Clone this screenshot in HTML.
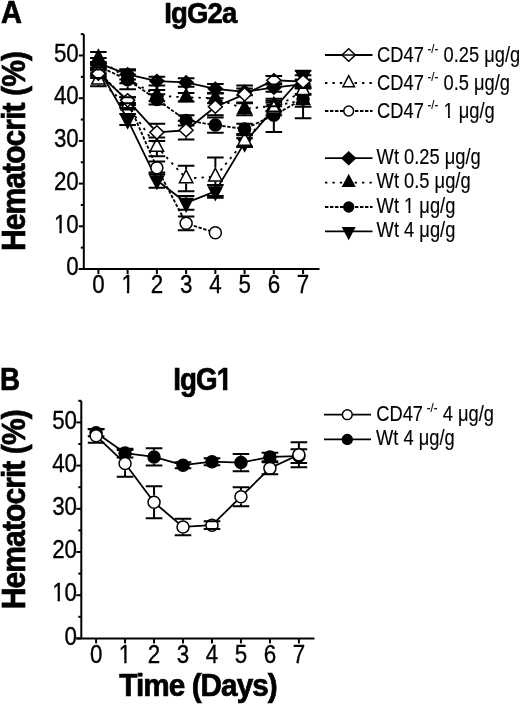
<!DOCTYPE html>
<html><head><meta charset="utf-8"><title>Hematocrit</title><style>html,body{margin:0;padding:0;background:#fff;}svg{display:block;}</style></head><body>
<svg width="520" height="705" viewBox="0 0 520 705" font-family='"Liberation Sans", sans-serif' fill="#000">
<rect width="520" height="705" fill="#fff"/>
<text transform="translate(1.0 23.0) scale(0.95 1)" font-size="30.5" font-weight="bold" stroke="#000" stroke-width="0.7">A</text>
<text transform="translate(0.0 389.6) scale(0.91 1)" font-size="30.5" font-weight="bold" stroke="#000" stroke-width="0.7">B</text>
<text x="164.3" y="23.2" font-size="30" font-weight="bold" textLength="72" lengthAdjust="spacingAndGlyphs" letter-spacing="-1.0" stroke="#000" stroke-width="0.7">IgG2a</text>
<text x="173.3" y="390.4" font-size="30.5" font-weight="bold" textLength="58" lengthAdjust="spacingAndGlyphs" letter-spacing="-1.0" stroke="#000" stroke-width="0.7">IgG1</text>
<text transform="translate(25.3 251.0) rotate(-90)" font-size="33" font-weight="bold" textLength="199" lengthAdjust="spacingAndGlyphs" letter-spacing="-1.0" stroke="#000" stroke-width="0.7">Hematocrit (%)</text>
<text transform="translate(25.0 609.2) rotate(-90)" font-size="33" font-weight="bold" textLength="199" lengthAdjust="spacingAndGlyphs" letter-spacing="-1.0" stroke="#000" stroke-width="0.7">Hematocrit (%)</text>
<text x="119.3" y="696.0" font-size="31" font-weight="bold" textLength="157.5" lengthAdjust="spacingAndGlyphs" letter-spacing="-1.0" stroke="#000" stroke-width="0.7">Time (Days)</text>
<path d="M83.80 34.15V269.00" stroke="#000" stroke-width="2" fill="none"/>
<path d="M78.80 269.00H319.50" stroke="#000" stroke-width="2" fill="none"/>
<path d="M78.80 269.00H83.80" stroke="#000" stroke-width="2"/>
<path d="M80.80 247.65H83.80" stroke="#000" stroke-width="2"/>
<path d="M78.80 226.30H83.80" stroke="#000" stroke-width="2"/>
<path d="M80.80 204.95H83.80" stroke="#000" stroke-width="2"/>
<path d="M78.80 183.60H83.80" stroke="#000" stroke-width="2"/>
<path d="M80.80 162.25H83.80" stroke="#000" stroke-width="2"/>
<path d="M78.80 140.90H83.80" stroke="#000" stroke-width="2"/>
<path d="M80.80 119.55H83.80" stroke="#000" stroke-width="2"/>
<path d="M78.80 98.20H83.80" stroke="#000" stroke-width="2"/>
<path d="M80.80 76.85H83.80" stroke="#000" stroke-width="2"/>
<path d="M78.80 55.50H83.80" stroke="#000" stroke-width="2"/>
<path d="M80.80 34.15H83.80" stroke="#000" stroke-width="2"/>
<path d="M98.40 269.00V274.00" stroke="#000" stroke-width="2"/>
<path d="M127.64 269.00V274.00" stroke="#000" stroke-width="2"/>
<path d="M156.88 269.00V274.00" stroke="#000" stroke-width="2"/>
<path d="M186.12 269.00V274.00" stroke="#000" stroke-width="2"/>
<path d="M215.36 269.00V274.00" stroke="#000" stroke-width="2"/>
<path d="M244.60 269.00V274.00" stroke="#000" stroke-width="2"/>
<path d="M273.84 269.00V274.00" stroke="#000" stroke-width="2"/>
<path d="M303.08 269.00V274.00" stroke="#000" stroke-width="2"/>
<text transform="translate(78.80 275.20) scale(0.86 1)" font-size="26.0" text-anchor="end" stroke="#000" stroke-width="0.35">0</text>
<text transform="translate(78.80 232.50) scale(0.86 1)" font-size="26.0" text-anchor="end" stroke="#000" stroke-width="0.35">10</text>
<text transform="translate(78.80 189.80) scale(0.86 1)" font-size="26.0" text-anchor="end" stroke="#000" stroke-width="0.35">20</text>
<text transform="translate(78.80 147.10) scale(0.86 1)" font-size="26.0" text-anchor="end" stroke="#000" stroke-width="0.35">30</text>
<text transform="translate(78.80 104.40) scale(0.86 1)" font-size="26.0" text-anchor="end" stroke="#000" stroke-width="0.35">40</text>
<text transform="translate(78.80 61.70) scale(0.86 1)" font-size="26.0" text-anchor="end" stroke="#000" stroke-width="0.35">50</text>
<text transform="translate(98.40 292.80) scale(0.86 1)" font-size="26.0" text-anchor="middle" stroke="#000" stroke-width="0.35">0</text>
<text transform="translate(127.64 292.80) scale(0.86 1)" font-size="26.0" text-anchor="middle" stroke="#000" stroke-width="0.35">1</text>
<text transform="translate(156.88 292.80) scale(0.86 1)" font-size="26.0" text-anchor="middle" stroke="#000" stroke-width="0.35">2</text>
<text transform="translate(186.12 292.80) scale(0.86 1)" font-size="26.0" text-anchor="middle" stroke="#000" stroke-width="0.35">3</text>
<text transform="translate(215.36 292.80) scale(0.86 1)" font-size="26.0" text-anchor="middle" stroke="#000" stroke-width="0.35">4</text>
<text transform="translate(244.60 292.80) scale(0.86 1)" font-size="26.0" text-anchor="middle" stroke="#000" stroke-width="0.35">5</text>
<text transform="translate(273.84 292.80) scale(0.86 1)" font-size="26.0" text-anchor="middle" stroke="#000" stroke-width="0.35">6</text>
<text transform="translate(303.08 292.80) scale(0.86 1)" font-size="26.0" text-anchor="middle" stroke="#000" stroke-width="0.35">7</text>
<path d="M98.40 68.31 L127.64 119.55 L156.88 180.18 L186.12 202.81 L215.36 191.29 L244.60 142.61 L273.84 108.88 L303.08 76.00" fill="none" stroke="#000" stroke-width="1.8" stroke-linejoin="round"/>
<path d="M98.40 76.84L105.10 64.04L91.70 64.04Z" fill="#000" stroke="#000" stroke-width="1.5" stroke-linejoin="miter"/>
<path d="M127.64 128.08L134.34 115.28L120.94 115.28Z" fill="#000" stroke="#000" stroke-width="1.5" stroke-linejoin="miter"/>
<path d="M156.88 188.72L163.58 175.92L150.18 175.92Z" fill="#000" stroke="#000" stroke-width="1.5" stroke-linejoin="miter"/>
<path d="M186.12 211.35L192.82 198.55L179.42 198.55Z" fill="#000" stroke="#000" stroke-width="1.5" stroke-linejoin="miter"/>
<path d="M215.36 199.82L222.06 187.02L208.66 187.02Z" fill="#000" stroke="#000" stroke-width="1.5" stroke-linejoin="miter"/>
<path d="M244.60 151.14L251.30 138.34L237.90 138.34Z" fill="#000" stroke="#000" stroke-width="1.5" stroke-linejoin="miter"/>
<path d="M273.84 117.41L280.54 104.61L267.14 104.61Z" fill="#000" stroke="#000" stroke-width="1.5" stroke-linejoin="miter"/>
<path d="M303.08 84.53L309.78 71.73L296.38 71.73Z" fill="#000" stroke="#000" stroke-width="1.5" stroke-linejoin="miter"/>
<path d="M90.10 63.19H106.70M90.10 73.43H106.70M98.40 63.19V63.29" stroke="#000" stroke-width="2.0" fill="none"/>
<path d="M119.34 114.00H135.94M119.34 125.10H135.94M127.64 114.00V114.53" stroke="#000" stroke-width="2.0" fill="none"/>
<path d="M148.58 172.50H165.18M148.58 187.87H165.18M156.88 172.50V175.17" stroke="#000" stroke-width="2.0" fill="none"/>
<path d="M177.82 195.98H194.42M177.82 209.65H194.42M186.12 195.98V197.80" stroke="#000" stroke-width="2.0" fill="none"/>
<path d="M207.06 184.88H223.66M207.06 197.69H223.66M215.36 184.88V186.27" stroke="#000" stroke-width="2.0" fill="none"/>
<path d="M236.30 138.34H252.90M236.30 146.88H252.90" stroke="#000" stroke-width="2.0" fill="none"/>
<path d="M265.54 102.47H282.14M265.54 115.28H282.14M273.84 102.47V103.86" stroke="#000" stroke-width="2.0" fill="none"/>
<path d="M294.78 70.87H311.38M294.78 81.12H311.38M303.08 70.87V70.98" stroke="#000" stroke-width="2.0" fill="none"/>
<path d="M98.40 66.18 L127.64 79.84 L156.88 99.48 L186.12 120.40 L215.36 125.10 L244.60 128.94 L273.84 115.28 L303.08 99.05" fill="none" stroke="#000" stroke-width="1.8" stroke-dasharray="3.4 1.6" stroke-linejoin="round"/>
<circle cx="98.40" cy="66.18" r="6.00" fill="#000" stroke="#000" stroke-width="1.5"/>
<circle cx="127.64" cy="79.84" r="6.00" fill="#000" stroke="#000" stroke-width="1.5"/>
<circle cx="156.88" cy="99.48" r="6.00" fill="#000" stroke="#000" stroke-width="1.5"/>
<circle cx="186.12" cy="120.40" r="6.00" fill="#000" stroke="#000" stroke-width="1.5"/>
<circle cx="215.36" cy="125.10" r="6.00" fill="#000" stroke="#000" stroke-width="1.5"/>
<circle cx="244.60" cy="128.94" r="6.00" fill="#000" stroke="#000" stroke-width="1.5"/>
<circle cx="273.84" cy="115.28" r="6.00" fill="#000" stroke="#000" stroke-width="1.5"/>
<circle cx="303.08" cy="99.05" r="6.00" fill="#000" stroke="#000" stroke-width="1.5"/>
<path d="M90.10 61.91H106.70M90.10 70.45H106.70" stroke="#000" stroke-width="2.0" fill="none"/>
<path d="M119.34 70.45H135.94M119.34 89.23H135.94M127.64 70.45V73.09M127.64 89.23V86.59" stroke="#000" stroke-width="2.0" fill="none"/>
<path d="M148.58 94.36H165.18M148.58 104.61H165.18" stroke="#000" stroke-width="2.0" fill="none"/>
<path d="M177.82 115.28H194.42M177.82 125.53H194.42" stroke="#000" stroke-width="2.0" fill="none"/>
<path d="M207.06 117.42H223.66M207.06 132.79H223.66M215.36 117.42V118.35M215.36 132.79V131.85" stroke="#000" stroke-width="2.0" fill="none"/>
<path d="M236.30 123.82H252.90M236.30 134.07H252.90" stroke="#000" stroke-width="2.0" fill="none"/>
<path d="M265.54 98.63H282.14M265.54 131.93H282.14M273.84 98.63V108.53M273.84 131.93V122.03" stroke="#000" stroke-width="2.0" fill="none"/>
<path d="M294.78 79.84H311.38M294.78 118.27H311.38M303.08 79.84V92.30M303.08 118.27V105.80" stroke="#000" stroke-width="2.0" fill="none"/>
<path d="M98.40 58.49 L127.64 78.99 L156.88 95.64 L186.12 97.35 L215.36 98.20 L244.60 108.88 L273.84 105.89 L303.08 100.34" fill="none" stroke="#000" stroke-width="1.8" stroke-dasharray="2.4 5.0" stroke-linejoin="round"/>
<path d="M98.40 49.96L105.10 62.76L91.70 62.76Z" fill="#000" stroke="#000" stroke-width="1.5" stroke-linejoin="miter"/>
<path d="M127.64 70.45L134.34 83.25L120.94 83.25Z" fill="#000" stroke="#000" stroke-width="1.5" stroke-linejoin="miter"/>
<path d="M156.88 87.10L163.58 99.90L150.18 99.90Z" fill="#000" stroke="#000" stroke-width="1.5" stroke-linejoin="miter"/>
<path d="M186.12 88.81L192.82 101.61L179.42 101.61Z" fill="#000" stroke="#000" stroke-width="1.5" stroke-linejoin="miter"/>
<path d="M215.36 89.67L222.06 102.47L208.66 102.47Z" fill="#000" stroke="#000" stroke-width="1.5" stroke-linejoin="miter"/>
<path d="M244.60 100.34L251.30 113.14L237.90 113.14Z" fill="#000" stroke="#000" stroke-width="1.5" stroke-linejoin="miter"/>
<path d="M273.84 97.35L280.54 110.15L267.14 110.15Z" fill="#000" stroke="#000" stroke-width="1.5" stroke-linejoin="miter"/>
<path d="M303.08 91.80L309.78 104.60L296.38 104.60Z" fill="#000" stroke="#000" stroke-width="1.5" stroke-linejoin="miter"/>
<path d="M90.10 52.08H106.70M90.10 64.89H106.70M98.40 64.89V63.51" stroke="#000" stroke-width="2.0" fill="none"/>
<path d="M119.34 74.72H135.94M119.34 83.26H135.94" stroke="#000" stroke-width="2.0" fill="none"/>
<path d="M148.58 90.09H165.18M148.58 101.19H165.18M156.88 101.19V100.65" stroke="#000" stroke-width="2.0" fill="none"/>
<path d="M177.82 93.08H194.42M177.82 101.62H194.42" stroke="#000" stroke-width="2.0" fill="none"/>
<path d="M207.06 93.08H223.66M207.06 103.32H223.66M215.36 103.32V103.22" stroke="#000" stroke-width="2.0" fill="none"/>
<path d="M236.30 102.47H252.90M236.30 115.28H252.90M244.60 115.28V113.89" stroke="#000" stroke-width="2.0" fill="none"/>
<path d="M265.54 100.76H282.14M265.54 111.01H282.14M273.84 111.01V110.90" stroke="#000" stroke-width="2.0" fill="none"/>
<path d="M294.78 93.93H311.38M294.78 106.74H311.38M303.08 106.74V105.35" stroke="#000" stroke-width="2.0" fill="none"/>
<path d="M98.40 63.19 L127.64 74.29 L156.88 81.12 L186.12 82.40 L215.36 88.81 L244.60 91.80 L273.84 87.53 L303.08 84.11" fill="none" stroke="#000" stroke-width="1.8" stroke-linejoin="round"/>
<path d="M98.40 56.59L105.40 63.19L98.40 69.79L91.40 63.19Z" fill="#000" stroke="#000" stroke-width="1.5" stroke-linejoin="miter"/>
<path d="M127.64 67.69L134.64 74.29L127.64 80.89L120.64 74.29Z" fill="#000" stroke="#000" stroke-width="1.5" stroke-linejoin="miter"/>
<path d="M156.88 74.52L163.88 81.12L156.88 87.72L149.88 81.12Z" fill="#000" stroke="#000" stroke-width="1.5" stroke-linejoin="miter"/>
<path d="M186.12 75.80L193.12 82.40L186.12 89.00L179.12 82.40Z" fill="#000" stroke="#000" stroke-width="1.5" stroke-linejoin="miter"/>
<path d="M215.36 82.21L222.36 88.81L215.36 95.41L208.36 88.81Z" fill="#000" stroke="#000" stroke-width="1.5" stroke-linejoin="miter"/>
<path d="M244.60 85.20L251.60 91.80L244.60 98.40L237.60 91.80Z" fill="#000" stroke="#000" stroke-width="1.5" stroke-linejoin="miter"/>
<path d="M273.84 80.93L280.84 87.53L273.84 94.12L266.84 87.53Z" fill="#000" stroke="#000" stroke-width="1.5" stroke-linejoin="miter"/>
<path d="M303.08 77.51L310.08 84.11L303.08 90.71L296.08 84.11Z" fill="#000" stroke="#000" stroke-width="1.5" stroke-linejoin="miter"/>
<path d="M90.10 58.06H106.70M90.10 68.31H106.70" stroke="#000" stroke-width="2.0" fill="none"/>
<path d="M119.34 69.16H135.94M119.34 79.41H135.94" stroke="#000" stroke-width="2.0" fill="none"/>
<path d="M148.58 76.85H165.18M148.58 85.39H165.18" stroke="#000" stroke-width="2.0" fill="none"/>
<path d="M177.82 78.13H194.42M177.82 86.67H194.42" stroke="#000" stroke-width="2.0" fill="none"/>
<path d="M207.06 84.11H223.66M207.06 93.50H223.66" stroke="#000" stroke-width="2.0" fill="none"/>
<path d="M236.30 88.38H252.90M236.30 95.21H252.90" stroke="#000" stroke-width="2.0" fill="none"/>
<path d="M265.54 83.26H282.14M265.54 91.80H282.14" stroke="#000" stroke-width="2.0" fill="none"/>
<path d="M294.78 79.84H311.38M294.78 88.38H311.38" stroke="#000" stroke-width="2.0" fill="none"/>
<path d="M98.40 71.73 L127.64 101.19 L156.88 167.80 L186.12 223.31 L215.36 232.71" fill="none" stroke="#000" stroke-width="1.8" stroke-dasharray="3.4 1.6" stroke-linejoin="round"/>
<circle cx="98.40" cy="71.73" r="6.00" fill="#fff" stroke="#000" stroke-width="1.5"/>
<circle cx="127.64" cy="101.19" r="6.00" fill="#fff" stroke="#000" stroke-width="1.5"/>
<circle cx="156.88" cy="167.80" r="6.00" fill="#fff" stroke="#000" stroke-width="1.5"/>
<circle cx="186.12" cy="223.31" r="6.00" fill="#fff" stroke="#000" stroke-width="1.5"/>
<circle cx="215.36" cy="232.71" r="6.00" fill="#fff" stroke="#000" stroke-width="1.5"/>
<path d="M90.10 67.46H106.70M90.10 76.00H106.70" stroke="#000" stroke-width="2.0" fill="none"/>
<path d="M119.34 97.35H135.94M119.34 105.03H135.94" stroke="#000" stroke-width="2.0" fill="none"/>
<path d="M148.58 161.40H165.18M148.58 174.21H165.18" stroke="#000" stroke-width="2.0" fill="none"/>
<path d="M177.82 216.48H194.42M177.82 230.14H194.42M186.12 216.48V216.56M186.12 230.14V230.06" stroke="#000" stroke-width="2.0" fill="none"/>
<path d="M98.40 79.84 L127.64 105.46 L156.88 146.88 L186.12 178.48 L215.36 176.77 L244.60 140.90 L273.84 108.88 L303.08 90.51" fill="none" stroke="#000" stroke-width="1.8" stroke-dasharray="2.4 5.0" stroke-linejoin="round"/>
<path d="M98.40 71.31L105.10 84.11L91.70 84.11Z" fill="#fff" stroke="#000" stroke-width="1.5" stroke-linejoin="miter"/>
<path d="M127.64 96.93L134.34 109.73L120.94 109.73Z" fill="#fff" stroke="#000" stroke-width="1.5" stroke-linejoin="miter"/>
<path d="M156.88 138.34L163.58 151.14L150.18 151.14Z" fill="#fff" stroke="#000" stroke-width="1.5" stroke-linejoin="miter"/>
<path d="M186.12 169.94L192.82 182.74L179.42 182.74Z" fill="#fff" stroke="#000" stroke-width="1.5" stroke-linejoin="miter"/>
<path d="M215.36 168.23L222.06 181.03L208.66 181.03Z" fill="#fff" stroke="#000" stroke-width="1.5" stroke-linejoin="miter"/>
<path d="M244.60 132.37L251.30 145.17L237.90 145.17Z" fill="#fff" stroke="#000" stroke-width="1.5" stroke-linejoin="miter"/>
<path d="M273.84 100.34L280.54 113.14L267.14 113.14Z" fill="#fff" stroke="#000" stroke-width="1.5" stroke-linejoin="miter"/>
<path d="M303.08 81.98L309.78 94.78L296.38 94.78Z" fill="#fff" stroke="#000" stroke-width="1.5" stroke-linejoin="miter"/>
<path d="M90.10 73.43H106.70M90.10 86.24H106.70M98.40 86.24V84.86" stroke="#000" stroke-width="2.0" fill="none"/>
<path d="M119.34 102.90H135.94M119.34 108.02H135.94" stroke="#000" stroke-width="2.0" fill="none"/>
<path d="M148.58 137.48H165.18M148.58 156.27H165.18M156.88 137.48V137.59M156.88 156.27V151.89" stroke="#000" stroke-width="2.0" fill="none"/>
<path d="M177.82 165.67H194.42M177.82 191.29H194.42M186.12 165.67V169.19M186.12 191.29V183.49" stroke="#000" stroke-width="2.0" fill="none"/>
<path d="M207.06 157.55H223.66M207.06 195.98H223.66M215.36 157.55V167.48M215.36 195.98V181.78" stroke="#000" stroke-width="2.0" fill="none"/>
<path d="M236.30 135.35H252.90M236.30 146.45H252.90M244.60 146.45V145.92" stroke="#000" stroke-width="2.0" fill="none"/>
<path d="M265.54 106.31H282.14M265.54 111.44H282.14" stroke="#000" stroke-width="2.0" fill="none"/>
<path d="M294.78 86.24H311.38M294.78 94.78H311.38" stroke="#000" stroke-width="2.0" fill="none"/>
<path d="M98.40 73.65 L127.64 100.34 L156.88 132.36 L186.12 130.23 L215.36 106.74 L244.60 94.36 L273.84 80.27 L303.08 81.55" fill="none" stroke="#000" stroke-width="1.8" stroke-linejoin="round"/>
<path d="M98.40 67.05L105.40 73.65L98.40 80.25L91.40 73.65Z" fill="#fff" stroke="#000" stroke-width="1.5" stroke-linejoin="miter"/>
<path d="M127.64 93.74L134.64 100.34L127.64 106.94L120.64 100.34Z" fill="#fff" stroke="#000" stroke-width="1.5" stroke-linejoin="miter"/>
<path d="M156.88 125.76L163.88 132.36L156.88 138.96L149.88 132.36Z" fill="#fff" stroke="#000" stroke-width="1.5" stroke-linejoin="miter"/>
<path d="M186.12 123.63L193.12 130.23L186.12 136.83L179.12 130.23Z" fill="#fff" stroke="#000" stroke-width="1.5" stroke-linejoin="miter"/>
<path d="M215.36 100.14L222.36 106.74L215.36 113.34L208.36 106.74Z" fill="#fff" stroke="#000" stroke-width="1.5" stroke-linejoin="miter"/>
<path d="M244.60 87.76L251.60 94.36L244.60 100.96L237.60 94.36Z" fill="#fff" stroke="#000" stroke-width="1.5" stroke-linejoin="miter"/>
<path d="M273.84 73.67L280.84 80.27L273.84 86.87L266.84 80.27Z" fill="#fff" stroke="#000" stroke-width="1.5" stroke-linejoin="miter"/>
<path d="M303.08 74.95L310.08 81.55L303.08 88.15L296.08 81.55Z" fill="#fff" stroke="#000" stroke-width="1.5" stroke-linejoin="miter"/>
<path d="M90.10 69.38H106.70M90.10 77.92H106.70" stroke="#000" stroke-width="2.0" fill="none"/>
<path d="M119.34 97.35H135.94M119.34 103.32H135.94" stroke="#000" stroke-width="2.0" fill="none"/>
<path d="M148.58 123.82H165.18M148.58 140.90H165.18M156.88 123.82V125.01M156.88 140.90V139.71" stroke="#000" stroke-width="2.0" fill="none"/>
<path d="M177.82 120.83H194.42M177.82 139.62H194.42M186.12 120.83V122.88M186.12 139.62V137.58" stroke="#000" stroke-width="2.0" fill="none"/>
<path d="M207.06 98.20H223.66M207.06 115.28H223.66M215.36 98.20V99.39M215.36 115.28V114.09" stroke="#000" stroke-width="2.0" fill="none"/>
<path d="M236.30 85.39H252.90M236.30 103.32H252.90M244.60 85.39V87.01M244.60 103.32V101.71" stroke="#000" stroke-width="2.0" fill="none"/>
<path d="M265.54 76.00H282.14M265.54 84.54H282.14" stroke="#000" stroke-width="2.0" fill="none"/>
<path d="M294.78 75.14H311.38M294.78 87.95H311.38" stroke="#000" stroke-width="2.0" fill="none"/>
<path d="M81.30 400.80V638.40" stroke="#000" stroke-width="2" fill="none"/>
<path d="M76.30 638.40H314.50" stroke="#000" stroke-width="2" fill="none"/>
<path d="M76.30 638.40H81.30" stroke="#000" stroke-width="2"/>
<path d="M78.30 616.80H81.30" stroke="#000" stroke-width="2"/>
<path d="M76.30 595.20H81.30" stroke="#000" stroke-width="2"/>
<path d="M78.30 573.60H81.30" stroke="#000" stroke-width="2"/>
<path d="M76.30 552.00H81.30" stroke="#000" stroke-width="2"/>
<path d="M78.30 530.40H81.30" stroke="#000" stroke-width="2"/>
<path d="M76.30 508.80H81.30" stroke="#000" stroke-width="2"/>
<path d="M78.30 487.20H81.30" stroke="#000" stroke-width="2"/>
<path d="M76.30 465.60H81.30" stroke="#000" stroke-width="2"/>
<path d="M78.30 444.00H81.30" stroke="#000" stroke-width="2"/>
<path d="M76.30 422.40H81.30" stroke="#000" stroke-width="2"/>
<path d="M78.30 400.80H81.30" stroke="#000" stroke-width="2"/>
<path d="M96.10 638.40V643.40" stroke="#000" stroke-width="2"/>
<path d="M125.07 638.40V643.40" stroke="#000" stroke-width="2"/>
<path d="M154.04 638.40V643.40" stroke="#000" stroke-width="2"/>
<path d="M183.01 638.40V643.40" stroke="#000" stroke-width="2"/>
<path d="M211.98 638.40V643.40" stroke="#000" stroke-width="2"/>
<path d="M240.95 638.40V643.40" stroke="#000" stroke-width="2"/>
<path d="M269.92 638.40V643.40" stroke="#000" stroke-width="2"/>
<path d="M298.89 638.40V643.40" stroke="#000" stroke-width="2"/>
<text transform="translate(77.00 644.60) scale(0.86 1)" font-size="26.0" text-anchor="end" stroke="#000" stroke-width="0.35">0</text>
<text transform="translate(77.00 601.40) scale(0.86 1)" font-size="26.0" text-anchor="end" stroke="#000" stroke-width="0.35">10</text>
<text transform="translate(77.00 558.20) scale(0.86 1)" font-size="26.0" text-anchor="end" stroke="#000" stroke-width="0.35">20</text>
<text transform="translate(77.00 515.00) scale(0.86 1)" font-size="26.0" text-anchor="end" stroke="#000" stroke-width="0.35">30</text>
<text transform="translate(77.00 471.80) scale(0.86 1)" font-size="26.0" text-anchor="end" stroke="#000" stroke-width="0.35">40</text>
<text transform="translate(77.00 428.60) scale(0.86 1)" font-size="26.0" text-anchor="end" stroke="#000" stroke-width="0.35">50</text>
<text transform="translate(96.10 663.00) scale(0.86 1)" font-size="26.0" text-anchor="middle" stroke="#000" stroke-width="0.35">0</text>
<text transform="translate(125.07 663.00) scale(0.86 1)" font-size="26.0" text-anchor="middle" stroke="#000" stroke-width="0.35">1</text>
<text transform="translate(154.04 663.00) scale(0.86 1)" font-size="26.0" text-anchor="middle" stroke="#000" stroke-width="0.35">2</text>
<text transform="translate(183.01 663.00) scale(0.86 1)" font-size="26.0" text-anchor="middle" stroke="#000" stroke-width="0.35">3</text>
<text transform="translate(211.98 663.00) scale(0.86 1)" font-size="26.0" text-anchor="middle" stroke="#000" stroke-width="0.35">4</text>
<text transform="translate(240.95 663.00) scale(0.86 1)" font-size="26.0" text-anchor="middle" stroke="#000" stroke-width="0.35">5</text>
<text transform="translate(269.92 663.00) scale(0.86 1)" font-size="26.0" text-anchor="middle" stroke="#000" stroke-width="0.35">6</text>
<text transform="translate(298.89 663.00) scale(0.86 1)" font-size="26.0" text-anchor="middle" stroke="#000" stroke-width="0.35">7</text>
<path d="M96.10 432.77 L125.07 453.07 L154.04 456.96 L183.01 465.17 L211.98 461.71 L240.95 462.58 L269.92 456.96 L298.89 456.10" fill="none" stroke="#000" stroke-width="1.8" stroke-linejoin="round"/>
<circle cx="96.10" cy="432.77" r="6.00" fill="#000" stroke="#000" stroke-width="1.5"/>
<circle cx="125.07" cy="453.07" r="6.00" fill="#000" stroke="#000" stroke-width="1.5"/>
<circle cx="154.04" cy="456.96" r="6.00" fill="#000" stroke="#000" stroke-width="1.5"/>
<circle cx="183.01" cy="465.17" r="6.00" fill="#000" stroke="#000" stroke-width="1.5"/>
<circle cx="211.98" cy="461.71" r="6.00" fill="#000" stroke="#000" stroke-width="1.5"/>
<circle cx="240.95" cy="462.58" r="6.00" fill="#000" stroke="#000" stroke-width="1.5"/>
<circle cx="269.92" cy="456.96" r="6.00" fill="#000" stroke="#000" stroke-width="1.5"/>
<circle cx="298.89" cy="456.10" r="6.00" fill="#000" stroke="#000" stroke-width="1.5"/>
<path d="M87.80 429.31H104.40M87.80 436.22H104.40" stroke="#000" stroke-width="2.0" fill="none"/>
<path d="M116.77 448.75H133.37M116.77 457.39H133.37" stroke="#000" stroke-width="2.0" fill="none"/>
<path d="M145.74 448.32H162.34M145.74 465.60H162.34M154.04 448.32V450.21M154.04 465.60V463.71" stroke="#000" stroke-width="2.0" fill="none"/>
<path d="M174.71 462.14H191.31M174.71 468.19H191.31" stroke="#000" stroke-width="2.0" fill="none"/>
<path d="M203.68 458.26H220.28M203.68 465.17H220.28" stroke="#000" stroke-width="2.0" fill="none"/>
<path d="M232.65 453.94H249.25M232.65 471.22H249.25M240.95 453.94V455.83M240.95 471.22V469.33" stroke="#000" stroke-width="2.0" fill="none"/>
<path d="M261.62 452.64H278.22M261.62 461.28H278.22" stroke="#000" stroke-width="2.0" fill="none"/>
<path d="M290.59 449.18H307.19M290.59 463.01H307.19M298.89 449.18V449.35M298.89 463.01V462.85" stroke="#000" stroke-width="2.0" fill="none"/>
<path d="M96.10 435.79 L125.07 463.44 L154.04 502.32 L183.01 526.94 L211.98 525.22 L240.95 496.70 L269.92 468.19 L298.89 454.80" fill="none" stroke="#000" stroke-width="1.8" stroke-linejoin="round"/>
<circle cx="96.10" cy="435.79" r="6.00" fill="#fff" stroke="#000" stroke-width="1.5"/>
<circle cx="125.07" cy="463.44" r="6.00" fill="#fff" stroke="#000" stroke-width="1.5"/>
<circle cx="154.04" cy="502.32" r="6.00" fill="#fff" stroke="#000" stroke-width="1.5"/>
<circle cx="183.01" cy="526.94" r="6.00" fill="#fff" stroke="#000" stroke-width="1.5"/>
<circle cx="211.98" cy="525.22" r="6.00" fill="#fff" stroke="#000" stroke-width="1.5"/>
<circle cx="240.95" cy="496.70" r="6.00" fill="#fff" stroke="#000" stroke-width="1.5"/>
<circle cx="269.92" cy="468.19" r="6.00" fill="#fff" stroke="#000" stroke-width="1.5"/>
<circle cx="298.89" cy="454.80" r="6.00" fill="#fff" stroke="#000" stroke-width="1.5"/>
<path d="M87.80 428.88H104.40M87.80 442.70H104.40M96.10 428.88V429.04M96.10 442.70V442.54" stroke="#000" stroke-width="2.0" fill="none"/>
<path d="M116.77 450.05H133.37M116.77 476.83H133.37M125.07 450.05V456.69M125.07 476.83V470.19" stroke="#000" stroke-width="2.0" fill="none"/>
<path d="M145.74 486.34H162.34M145.74 518.30H162.34M154.04 486.34V495.57M154.04 518.30V509.07" stroke="#000" stroke-width="2.0" fill="none"/>
<path d="M174.71 518.74H191.31M174.71 535.15H191.31M183.01 518.74V520.19M183.01 535.15V533.69" stroke="#000" stroke-width="2.0" fill="none"/>
<path d="M203.68 521.33H220.28M203.68 529.10H220.28" stroke="#000" stroke-width="2.0" fill="none"/>
<path d="M232.65 487.20H249.25M232.65 506.21H249.25M240.95 487.20V489.95M240.95 506.21V503.45" stroke="#000" stroke-width="2.0" fill="none"/>
<path d="M261.62 462.14H278.22M261.62 474.24H278.22" stroke="#000" stroke-width="2.0" fill="none"/>
<path d="M290.59 442.27H307.19M290.59 467.33H307.19M298.89 442.27V448.05M298.89 467.33V461.55" stroke="#000" stroke-width="2.0" fill="none"/>
<path d="M325.00 55.00H372.50" stroke="#000" stroke-width="1.8"/>
<path d="M348.70 48.73L355.35 55.00L348.70 61.27L342.05 55.00Z" fill="#fff" stroke="#000" stroke-width="1.5" stroke-linejoin="miter"/>
<path d="M343 55.00H354.4" stroke="#000" stroke-width="1.5"/>
<text transform="translate(377.00 61.50) scale(0.86 1)" font-size="21.3" stroke="#000" stroke-width="0.15">CD47</text><text transform="translate(427.50 52.60) scale(0.86 1)" font-size="13.2" stroke="#000" stroke-width="0.15">-/-</text><text transform="translate(443.50 61.50) scale(0.86 1)" font-size="21.3" stroke="#000" stroke-width="0.15">0.25 μg/g</text>
<path d="M325.00 83.00H372.50" stroke="#000" stroke-width="1.8" stroke-dasharray="2.4 5.0"/>
<path d="M348.70 75.66L354.46 86.67L342.94 86.67Z" fill="#fff" stroke="#000" stroke-width="1.5" stroke-linejoin="miter"/>
<text transform="translate(377.00 89.50) scale(0.86 1)" font-size="21.3" stroke="#000" stroke-width="0.15">CD47</text><text transform="translate(427.50 80.60) scale(0.86 1)" font-size="13.2" stroke="#000" stroke-width="0.15">-/-</text><text transform="translate(443.50 89.50) scale(0.86 1)" font-size="21.3" stroke="#000" stroke-width="0.15">0.5 μg/g</text>
<path d="M325.00 111.00H372.50" stroke="#000" stroke-width="1.8" stroke-dasharray="3.4 1.6"/>
<circle cx="348.70" cy="111.00" r="4.92" fill="#fff" stroke="#000" stroke-width="1.5"/>
<text transform="translate(377.00 117.50) scale(0.86 1)" font-size="21.3" stroke="#000" stroke-width="0.15">CD47</text><text transform="translate(427.50 108.60) scale(0.86 1)" font-size="13.2" stroke="#000" stroke-width="0.15">-/-</text><text transform="translate(443.50 117.50) scale(0.86 1)" font-size="21.3" stroke="#000" stroke-width="0.15">1 μg/g</text>
<path d="M325.00 158.20H372.50" stroke="#000" stroke-width="1.8"/>
<path d="M348.70 151.93L355.35 158.20L348.70 164.47L342.05 158.20Z" fill="#000" stroke="#000" stroke-width="1.5" stroke-linejoin="miter"/>
<text transform="translate(376.60 163.80) scale(0.86 1)" font-size="21.3" stroke="#000" stroke-width="0.15">Wt 0.25 μg/g</text>
<path d="M325.00 182.60H372.50" stroke="#000" stroke-width="1.8" stroke-dasharray="2.4 5.0"/>
<path d="M348.70 175.26L354.46 186.27L342.94 186.27Z" fill="#000" stroke="#000" stroke-width="1.5" stroke-linejoin="miter"/>
<text transform="translate(376.60 188.20) scale(0.86 1)" font-size="21.3" stroke="#000" stroke-width="0.15">Wt 0.5 μg/g</text>
<path d="M325.00 207.00H372.50" stroke="#000" stroke-width="1.8" stroke-dasharray="3.4 1.6"/>
<circle cx="348.70" cy="207.00" r="4.92" fill="#000" stroke="#000" stroke-width="1.5"/>
<text transform="translate(376.60 212.60) scale(0.86 1)" font-size="21.3" stroke="#000" stroke-width="0.15">Wt 1 μg/g</text>
<path d="M325.00 231.40H372.50" stroke="#000" stroke-width="1.8"/>
<path d="M348.70 238.74L354.46 227.73L342.94 227.73Z" fill="#000" stroke="#000" stroke-width="1.5" stroke-linejoin="miter"/>
<text transform="translate(376.60 237.00) scale(0.86 1)" font-size="21.3" stroke="#000" stroke-width="0.15">Wt 4 μg/g</text>
<path d="M324.00 414.70H371.00" stroke="#000" stroke-width="1.8"/>
<circle cx="347.30" cy="414.70" r="4.92" fill="#fff" stroke="#000" stroke-width="1.5"/>
<text transform="translate(376.20 420.60) scale(0.86 1)" font-size="21.3" stroke="#000" stroke-width="0.15">CD47</text><text transform="translate(426.70 411.70) scale(0.86 1)" font-size="13.2" stroke="#000" stroke-width="0.15">-/-</text><text transform="translate(442.70 420.60) scale(0.86 1)" font-size="21.3" stroke="#000" stroke-width="0.15">4 μg/g</text>
<path d="M324.00 439.40H371.00" stroke="#000" stroke-width="1.8"/>
<circle cx="347.30" cy="439.40" r="4.92" fill="#000" stroke="#000" stroke-width="1.5"/>
<text transform="translate(376.00 445.40) scale(0.86 1)" font-size="21.3" stroke="#000" stroke-width="0.15">Wt 4 μg/g</text>
<g transform="matrix(1.00000 0.00000 0.00000 1.00000 0.000 0.000)"><rect x="216.68" y="385.64" width="6.23" height="6.71" fill="#fff"/><rect x="227.41" y="385.64" width="5.87" height="6.71" fill="#fff"/></g>
<g transform="matrix(0.86000 0.00000 0.00000 1.00000 78.800 232.500)"><rect x="-28.91" y="-2.94" width="6.30" height="4.74" fill="#fff"/><rect x="-19.85" y="-2.94" width="6.10" height="4.74" fill="#fff"/></g>
<g transform="matrix(0.86000 0.00000 0.00000 1.00000 127.640 292.800)"><rect x="-7.23" y="-2.94" width="6.30" height="4.74" fill="#fff"/><rect x="1.84" y="-2.94" width="6.10" height="4.74" fill="#fff"/></g>
<g transform="matrix(0.86000 0.00000 0.00000 1.00000 77.000 601.400)"><rect x="-28.91" y="-2.94" width="6.30" height="4.74" fill="#fff"/><rect x="-19.85" y="-2.94" width="6.10" height="4.74" fill="#fff"/></g>
<g transform="matrix(0.86000 0.00000 0.00000 1.00000 125.070 663.000)"><rect x="-7.23" y="-2.94" width="6.30" height="4.74" fill="#fff"/><rect x="1.84" y="-2.94" width="6.10" height="4.74" fill="#fff"/></g>
<g transform="matrix(0.86000 0.00000 0.00000 1.00000 443.500 117.500)"><rect x="-0.35" y="-2.59" width="5.48" height="4.39" fill="#fff"/><rect x="7.47" y="-2.59" width="5.31" height="4.39" fill="#fff"/></g>
<g transform="matrix(0.86000 0.00000 0.00000 1.00000 376.600 212.600)"><rect x="31.56" y="-2.59" width="5.48" height="4.39" fill="#fff"/><rect x="39.40" y="-2.59" width="5.32" height="4.39" fill="#fff"/></g>
</svg>
</body></html>
